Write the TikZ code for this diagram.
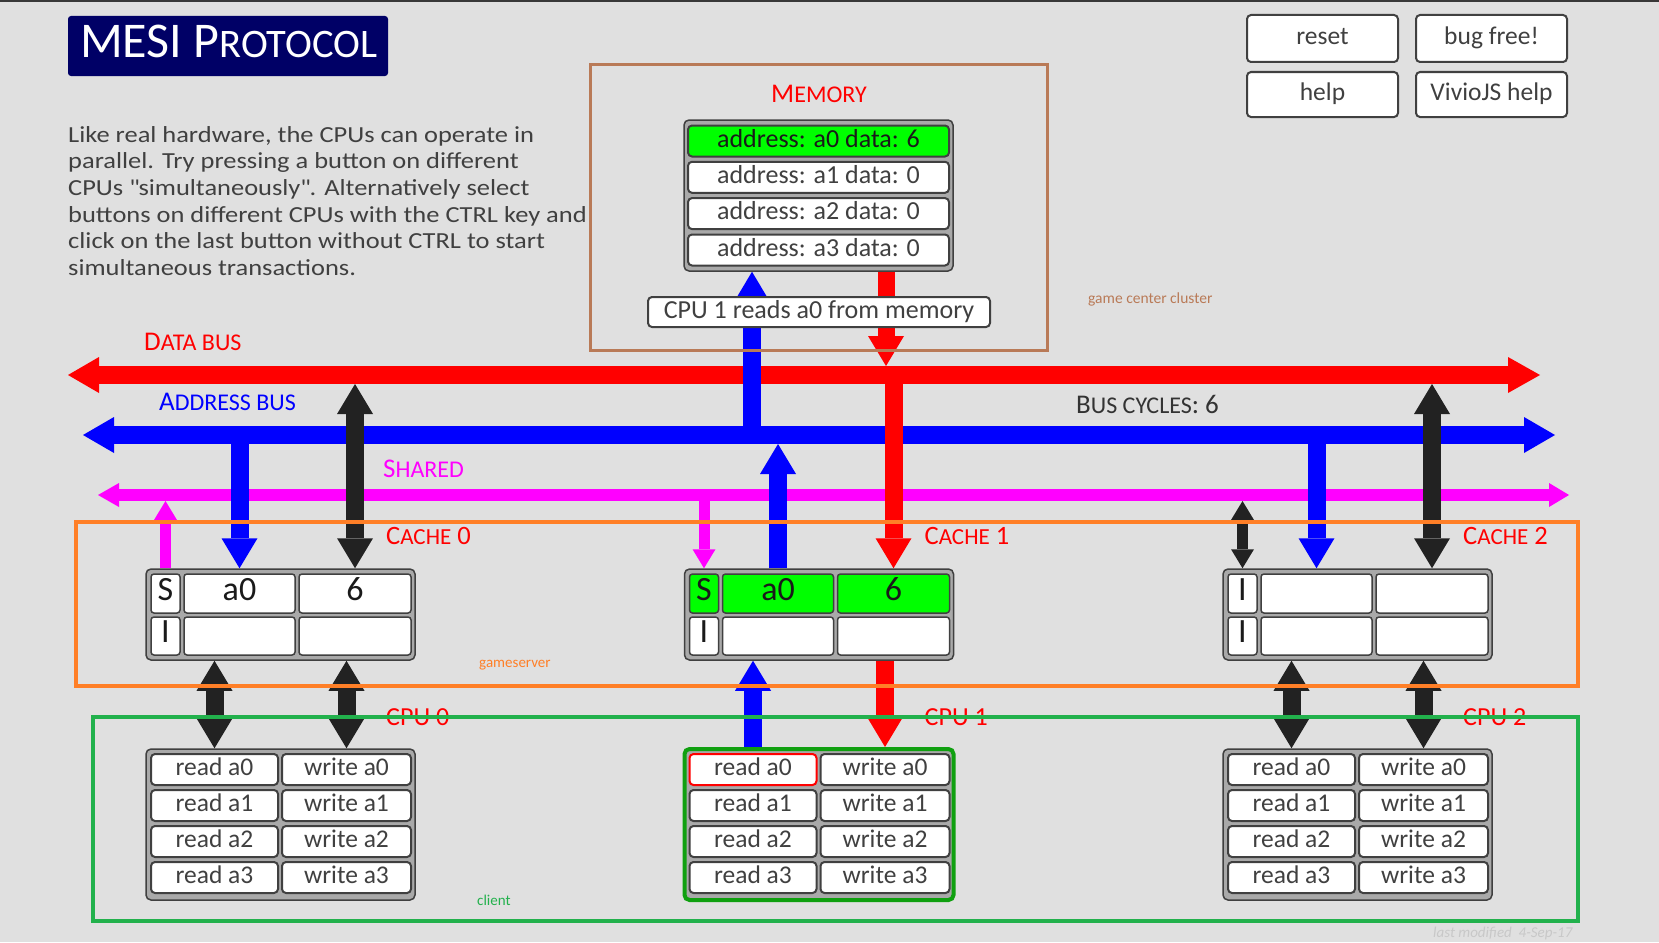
\documentclass[tikz,border=0pt]{standalone}
\usepackage{fontspec}
\setmainfont{Carlito}
\newfontfamily\parafont[FakeStretch=1.15]{Carlito}
\usetikzlibrary{arrows.meta}
\definecolor{bg}{HTML}{E0E0E0}
\definecolor{navy}{HTML}{000066}
\definecolor{ptext}{HTML}{404040}
\definecolor{cline}{HTML}{404040}
\definecolor{tfill}{HTML}{A9A9A9}
\definecolor{ctext}{HTML}{1A1A1A}
\definecolor{lgreen}{HTML}{00FF00}
\definecolor{membrown}{HTML}{B97A57}
\definecolor{orng}{HTML}{FF7F27}
\definecolor{grn}{HTML}{22B14C}
\definecolor{cpugrn}{HTML}{10A010}
\definecolor{blk}{HTML}{222222}
\definecolor{mag}{HTML}{FF00FF}
\definecolor{faint}{HTML}{C8C8C8}
\definecolor{bustxt}{HTML}{333333}
\newcommand{\fs}[1]{\fontsize{#1}{#1}\selectfont}
\newcommand{\cachetbl}[6]{%
  \node[tbl, minimum width=269pt, minimum height=91pt] (#1) at (280.5+#2,614.5) {};
  \node[cellbox, minimum width=29pt, minimum height=39pt, fill=#6] (#1s1) at (165.5+#2,593.5) {#3};
  \node[cellbox, minimum width=111pt, minimum height=39pt, fill=#6] (#1a1) at (239.5+#2,593.5) {#4};
  \node[cellbox, minimum width=112pt, minimum height=39pt, fill=#6] (#1d1) at (355+#2,593.5) {#5};
  \node[cellbox, minimum width=29pt, minimum height=38pt] (#1s2) at (165.5+#2,636) {I};
  \node[cellbox, minimum width=111pt, minimum height=38pt] (#1a2) at (239.5+#2,636) {};
  \node[cellbox, minimum width=112pt, minimum height=38pt] (#1d2) at (355+#2,636) {};
}
\newcommand{\cputbl}[4]{%
  \node[tbl, minimum width=269pt, minimum height=151pt, #3] (#1) at (280.5+#2,824.5) {};
  \node[btn, minimum width=127pt, minimum height=31pt, #4] (#1r0) at (214.5+#2,769.5) {read a0};
  \node[btn, minimum width=129pt, minimum height=31pt] (#1w0) at (346.5+#2,769.5) {write a0};
  \node[btn, minimum width=127pt, minimum height=31pt] (#1r1) at (214.5+#2,805.5) {read a1};
  \node[btn, minimum width=129pt, minimum height=31pt] (#1w1) at (346.5+#2,805.5) {write a1};
  \node[btn, minimum width=127pt, minimum height=31pt] (#1r2) at (214.5+#2,841.5) {read a2};
  \node[btn, minimum width=129pt, minimum height=31pt] (#1w2) at (346.5+#2,841.5) {write a2};
  \node[btn, minimum width=127pt, minimum height=31pt] (#1r3) at (214.5+#2,877.5) {read a3};
  \node[btn, minimum width=129pt, minimum height=31pt] (#1w3) at (346.5+#2,877.5) {write a3};
}
\begin{document}
\begin{tikzpicture}[x=1pt,y=-1pt,
  cellbox/.style={draw=cline, line width=1.5pt, rounded corners=3pt, fill=white, inner sep=0pt, text=ctext, font=\fs{34pt}, text height=21pt, text depth=8pt},
  tbl/.style={draw=cline, line width=1.5pt, rounded corners=5pt, fill=tfill, inner sep=0pt},
  btn/.style={draw=cline, line width=2pt, rounded corners=4pt, fill=white, inner sep=0pt, text=ptext, font=\fs{25.5pt}, text height=17.5pt, text depth=5pt},
  lbl/.style={inner sep=0pt, anchor=base west},
  fat/.style={line width=18pt},
  slim/.style={line width=11pt},
  hd/.style={-{Triangle[length=30pt,width=36pt,line width=0pt]}},
  hdd/.style={{Triangle[length=30pt,width=36pt,line width=0pt]}-{Triangle[length=30pt,width=36pt,line width=0pt]}},
  hs/.style={-{Triangle[length=19pt,width=23pt,line width=0pt]}},
  hsd/.style={{Triangle[length=19pt,width=23pt,line width=0pt]}-{Triangle[length=19pt,width=23pt,line width=0pt]}},
]
\fill[bg] (0,0) rectangle (1659,942);
\useasboundingbox (0,0) rectangle (1659,942);
\fill[black!78] (0,0) rectangle (1659,2);

% title
\node[fill=navy, rounded corners=3pt, minimum width=320pt, minimum height=60pt, inner sep=0pt] (title) at (228,46) {};
\node[lbl, text=white] (titletxt) at (80,57) {{\fs{50pt}MESI P}{\fs{40.5pt}ROTOCOL}};

% paragraph
\begin{scope}[every node/.style={lbl, text=ptext, font=\parafont\fs{23pt}}]
\node (para1) at (68,142) {Like real hardware, the CPUs can operate in};
\node (para2) at (68,168.7) {parallel. Try pressing a button on different};
\node (para3) at (68,195.3) {CPUs \textquotedbl simultaneously\textquotedbl. Alternatively select};
\node (para4) at (68,222) {buttons on different CPUs with the CTRL key and};
\node (para5) at (68,248.7) {click on the last button without CTRL to start};
\node (para6) at (68,275.3) {simultaneous transactions.};
\end{scope}

% top right buttons
\node[btn, minimum width=151pt, minimum height=47pt] (reset) at (1322.5,38.5) {reset};
\node[btn, minimum width=151pt, minimum height=47pt] (bugfree) at (1491.5,38.5) {bug free!};
\node[btn, minimum width=151pt, minimum height=45pt] (help) at (1322.5,94.5) {help};
\node[btn, minimum width=151pt, minimum height=45pt] (vhelp) at (1491.5,94.5) {VivioJS help};

% labels
\node[inner sep=0pt, anchor=base, text=red] (memlbl) at (819,102) {{\fs{27pt}M}{\fs{24pt}EMORY}};
\node[lbl, text=red] (dblbl) at (144,350) {{\fs{27pt}D}{\fs{24pt}ATA BUS}};
\node[lbl, text=blue] (ablbl) at (159,410) {{\fs{27pt}A}{\fs{24pt}DDRESS BUS}};
\node[lbl, text=mag] (shlbl) at (383,477) {{\fs{27pt}S}{\fs{24pt}HARED}};
\node[lbl, text=bustxt] (cyc) at (1076,413) {{\fs{27pt}B}{\fs{24pt}US CYCLES}{\fs{27pt}: 6}};
\node[lbl, text=membrown, font=\fs{15.5pt}] (gcc) at (1088,303) {game center cluster};
\node[lbl, text=orng, font=\fs{15pt}] (gs) at (479,667) {gameserver};
\node[lbl, text=grn, font=\fs{15pt}] (cl) at (477,905) {client};
\node[lbl, text=faint, font=\fs{15pt}\itshape] (lastmod) at (1433,937) {last modified~~4-Sep-17};
\foreach \i/\o in {0/0,1/538.5,2/1077}{
  \node[lbl, text=red] (cachelbl\i) at (386+\o,544) {{\fs{26.5pt}C}{\fs{23pt}ACHE}{\fs{26.5pt}~\i}};
  \node[lbl, text=red, font=\fs{26pt}] (cpulbl\i) at (386+\o,725) {CPU \i};
}

% memory
\node[tbl, minimum width=269pt, minimum height=151pt] (mem) at (818.5,195.5) {};
\node[btn, minimum width=261pt, minimum height=31pt, font=\fs{26pt}, fill=lgreen, text=ctext] (m0) at (818.5,141) {address: a0 data: 6};
\node[btn, minimum width=261pt, minimum height=31pt, font=\fs{26pt}] (m1) at (818.5,177.3) {address: a1 data: 0};
\node[btn, minimum width=261pt, minimum height=31pt, font=\fs{26pt}] (m2) at (818.5,213.6) {address: a2 data: 0};
\node[btn, minimum width=261pt, minimum height=31pt, font=\fs{26pt}] (m3) at (818.5,250) {address: a3 data: 0};
\coordinate (mA) at ([xshift=-66.5pt]mem.south);
\coordinate (mD) at ([xshift=67.5pt]mem.south);

% caches and cpus
\cachetbl{c0}{0}{S}{a0}{6}{white}
\cachetbl{c1}{538.5}{S}{a0}{6}{lgreen}
\cachetbl{c2}{1077}{I}{}{}{white}
\cputbl{cpu0}{0}{}{}
\cputbl{cpu1}{538.5}{draw=cpugrn, line width=4pt}{draw=red}
\cputbl{cpu2}{1077}{}{}

% buses
\coordinate (dbL) at (68,375);  \coordinate (dbR) at (1540,375);
\coordinate (abL) at (83,435);  \coordinate (abR) at (1555,435);
\coordinate (shL) at (98,495);  \coordinate (shR) at (1569,495);
\coordinate (dbTop) at (0,366); \coordinate (dbMid) at (0,375); \coordinate (dbBot) at (0,384);
\coordinate (abTop) at (0,426); \coordinate (abMid) at (0,435); \coordinate (abBot) at (0,444);
\coordinate (shMid) at (0,495); \coordinate (shBot) at (0,501);
\draw[red, fat, {Triangle[length=31pt,width=36pt,line width=0pt]}-{Triangle[length=32pt,width=36pt,line width=0pt]}] (dbL) -- (dbR);
\draw[blue, fat, {Triangle[length=31pt,width=36pt,line width=0pt]}-{Triangle[length=31pt,width=36pt,line width=0pt]}] (abL) -- (abR);
\draw[mag, line width=12pt, {Triangle[length=21pt,width=24pt,line width=0pt]}-{Triangle[length=20pt,width=24pt,line width=0pt]}] (shL) -- (shR);

% memory arrows
\draw[blue, fat, -{Triangle[length=26pt,width=31pt,line width=0pt]}] (mA |- abMid) -- (mA);
\draw[red, line width=17pt, hd] (mD) -- (mD |- dbTop);

% cache 0
\draw[mag, slim, hs] (c0s1 |- c0.north) -- (c0s1 |- shBot);
\draw[blue, fat, hd] (c0a1 |- abMid) -- (c0a1 |- c0.north);
\draw[blk, fat, hdd] (c0d1 |- dbBot) -- (c0d1 |- c0.north);
% cache 1
\draw[mag, slim, hs] (c1s1 |- shMid) -- (c1s1 |- c1.north);
\draw[blue, fat, hd] (c1a1 |- c1.north) -- (c1a1 |- abBot);
\draw[red, fat, hd] (c1d1 |- dbMid) -- (c1d1 |- c1.north);
% cache 2
\draw[blk, slim, hsd] (c2s1 |- shBot) -- (c2s1 |- c2.north);
\draw[blue, fat, hd] (c2a1 |- abMid) -- (c2a1 |- c2.north);
\draw[blk, fat, hdd] (c2d1 |- dbBot) -- (c2d1 |- c2.north);

% cache <-> cpu
\draw[blk, fat, hdd] (cpu0r0 |- c0.south) -- (cpu0r0 |- cpu0.north);
\draw[blk, fat, hdd] (cpu0w0 |- c0.south) -- (cpu0w0 |- cpu0.north);
\draw[blue, fat, hd] (cpu1r0 |- cpu1.north) -- (cpu1r0 |- c1.south);
\draw[red, fat, hd] (cpu1w0 |- c1.south) -- (cpu1w0 |- cpu1.north);
\draw[blk, fat, hdd] (cpu2r0 |- c2.south) -- (cpu2r0 |- cpu2.north);
\draw[blk, fat, hdd] (cpu2w0 |- c2.south) -- (cpu2w0 |- cpu2.north);

% message label
\node[btn, minimum width=342pt, minimum height=30pt, font=\fs{26pt}] (msg) at (819,312) {CPU 1 reads a0 from memory};

% frames
\draw[membrown, line width=3pt] (590,65) rectangle (1047,350);
\draw[orng, line width=4pt] (76,522) rectangle (1578,686);
\draw[grn, line width=4pt] (93,717) rectangle (1578,921);
\end{tikzpicture}
\end{document}
